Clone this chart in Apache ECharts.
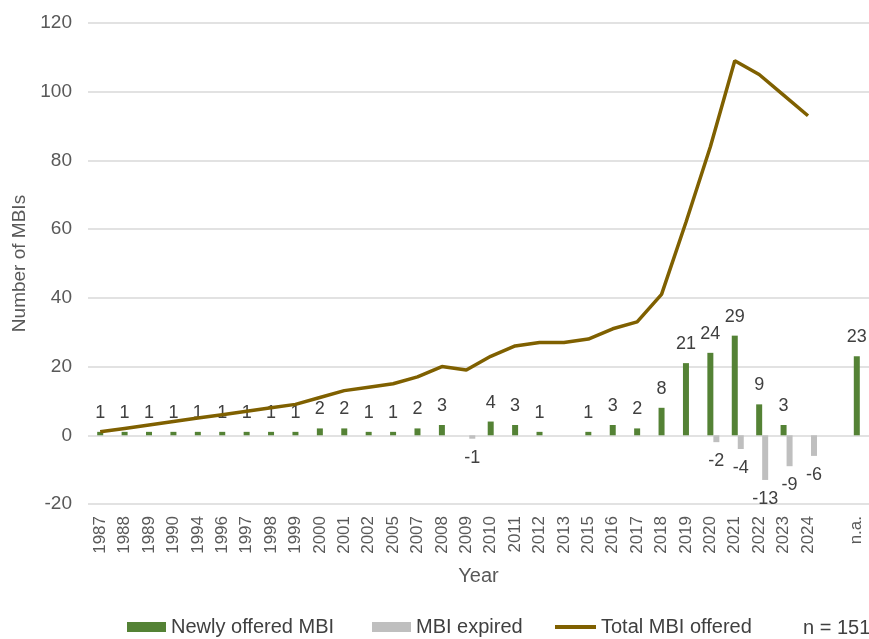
<!DOCTYPE html>
<html>
<head>
<meta charset="utf-8">
<script src="https://cdn.jsdelivr.net/npm/echarts@6/dist/echarts.min.js"></script>
<style>
  html, body { margin: 0; padding: 0; background: #fff; }
  #chart { width: 869px; height: 639px; }
</style>
</head>
<body>
<div id="chart"></div>
<script>
// Years with at least one MBI event; the empty slot separates the undated group
const years = ['1987', '1988', '1989', '1990', '1994', '1996', '1997', '1998', '1999', '2000',
  '2001', '2002', '2005', '2007', '2008', '2009', '2010', '2011', '2012', '2013',
  '2015', '2016', '2017', '2018', '2019', '2020', '2021', '2022', '2023', '2024', '', 'n.a.'];

// MBIs newly offered per year
const newlyOffered = [1, 1, 1, 1, 1, 1, 1, 1, 1, 2,
  2, 1, 1, 2, 3, null, 4, 3, 1, null,
  1, 3, 2, 8, 21, 24, 29, 9, 3, null, null, 23];

// MBIs that expired per year
const expired = [null, null, null, null, null, null, null, null, null, null,
  null, null, null, null, null, -1, null, null, null, null,
  null, null, null, null, null, -2, -4, -13, -9, -6, null, null];

// Running total of MBIs on offer
const totalOffered = [1, 2, 3, 4, 5, 6, 7, 8, 9, 11,
  13, 14, 15, 17, 20, 19, 23, 26, 27, 27,
  28, 31, 33, 41, 62, 84, 109, 105, 99, 93, null, null];

const yTicks = { min: -20, max: 120, step: 20 };
const sampleSize = 151;

const GREEN = '#548235';
const GREY = '#BFBFBF';
const BROWN = '#7F6000';
const TEXT = '#404040';
const AXIS_TEXT = '#595959';
const FONT = '"Liberation Sans", Arial, sans-serif';

const chart = echarts.init(document.getElementById('chart'), null, { renderer: 'canvas' });

const legendBase = {
  orient: 'horizontal',
  top: 617,
  padding: 0,
  textStyle: { color: TEXT, fontSize: 20, fontFamily: FONT },
  selectedMode: false
};

chart.setOption({
  animation: false,
  backgroundColor: '#fff',
  grid: { left: 88, right: 0, top: 23, bottom: 135, containLabel: false },
  legend: [
    Object.assign({}, legendBase, { data: ['Newly offered MBI'], left: 127, itemWidth: 39, itemHeight: 10, icon: 'rect' }),
    Object.assign({}, legendBase, { data: ['MBI expired'], left: 372, itemWidth: 39, itemHeight: 10, icon: 'rect' }),
    Object.assign({}, legendBase, { data: ['Total MBI offered'], left: 555, itemWidth: 41, itemHeight: 4, icon: 'rect' })
  ],
  graphic: [{
    type: 'text',
    left: 803,
    top: 618,
    style: { text: 'n = ' + sampleSize, fill: TEXT, fontSize: 20, fontFamily: FONT }
  }],
  xAxis: {
    type: 'category',
    data: years,
    position: 'bottom',
    name: 'Year',
    nameLocation: 'middle',
    nameGap: 62,
    nameTextStyle: { color: AXIS_TEXT, fontSize: 20, fontFamily: FONT },
    axisLine: { show: false, onZero: false },
    axisTick: { show: false },
    axisLabel: {
      interval: 0,
      rotate: 90,
      margin: 12,
      color: AXIS_TEXT,
      fontSize: 17,
      fontFamily: FONT
    }
  },
  yAxis: {
    type: 'value',
    min: yTicks.min,
    max: yTicks.max,
    interval: yTicks.step,
    name: 'Number of MBIs',
    nameLocation: 'middle',
    nameGap: 54,
    nameTextStyle: { color: AXIS_TEXT, fontSize: 19, fontFamily: FONT },
    axisLine: { show: false },
    axisTick: { show: false },
    axisLabel: { margin: 16, color: AXIS_TEXT, fontSize: 19, fontFamily: FONT },
    splitLine: { lineStyle: { color: '#D9D9D9', width: 1.5 } }
  },
  series: [
    {
      // empty leading slot so the green bars sit centred on their ticks
      type: 'bar',
      name: 'slot',
      data: [],
      barWidth: 6,
      barGap: '0%',
      silent: true
    },
    {
      type: 'bar',
      name: 'Newly offered MBI',
      data: newlyOffered,
      barWidth: 6,
      barGap: '0%',
      itemStyle: { color: GREEN },
      label: {
        show: true,
        position: 'top',
        distance: 10,
        color: TEXT,
        fontSize: 18,
        fontFamily: FONT
      },
      z: 2
    },
    {
      type: 'bar',
      name: 'MBI expired',
      data: expired,
      barWidth: 6,
      barGap: '0%',
      itemStyle: { color: GREY },
      label: {
        show: true,
        position: 'bottom',
        distance: 10,
        color: TEXT,
        fontSize: 18,
        fontFamily: FONT
      },
      z: 2
    },
    {
      type: 'line',
      name: 'Total MBI offered',
      data: totalOffered,
      showSymbol: false,
      symbol: 'none',
      connectNulls: false,
      lineStyle: { color: BROWN, width: 3.5 },
      itemStyle: { color: BROWN },
      z: 3
    }
  ]
});
</script>
</body>
</html>
